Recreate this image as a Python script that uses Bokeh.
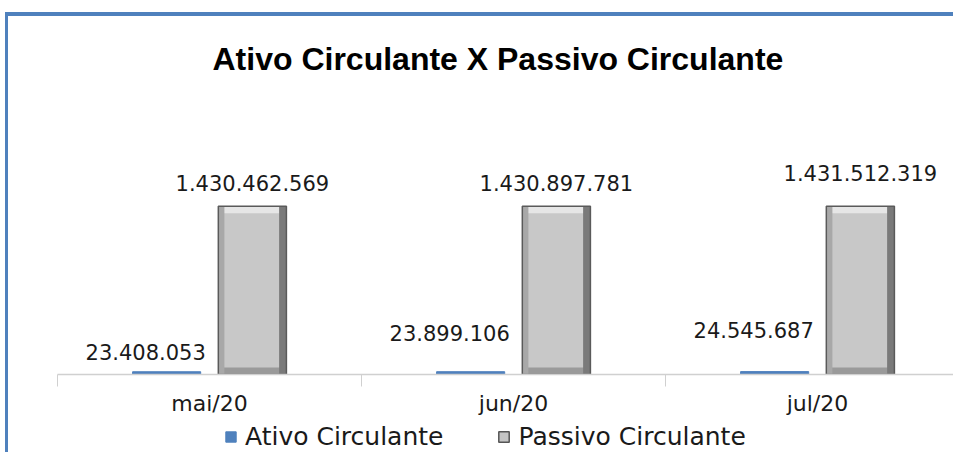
from bokeh.plotting import figure
from bokeh.layouts import column
from bokeh.models import ColumnDataSource, FixedTicker, Range1d, Legend, LegendItem
from bokeh.transform import dodge
from bokeh.embed import file_html
from bokeh.resources import INLINE
from bokeh.core.properties import value

# ---- data ----
categories = ["mai/20", "jun/20", "jul/20"]
ativo = [23408053, 23899106, 24545687]
passivo = [1430462569, 1430897781, 1431512319]
series_names = ["Ativo Circulante", "Passivo Circulante"]

# label offsets in screen pixels (layout only)
ativo_label_dy = [-12, -31, -34]
passivo_label_dy = [-15, -15, -25]


def fmt(v):
    return f"{v:,}".replace(",", ".")


W, H = 945, 402
FRAME_TOP, FRAME_BOTTOM, FRAME_LEFT = 69, 361, 49
frame_h = FRAME_BOTTOM - FRAME_TOP
y_end = max(passivo) * frame_h / 170
bevel = y_end * 7 / frame_h

centers = [i + 0.5 for i in range(len(categories))]
src = ColumnDataSource(dict(
    x=centers,
    ativo=ativo,
    passivo=passivo,
    passivo_top_band=[v - bevel for v in passivo],
    bevel_h=[bevel] * len(passivo),
    ativo_txt=[fmt(v) for v in ativo],
    passivo_txt=[fmt(v) for v in passivo],
    a_dy=ativo_label_dy,
    p_dy=passivo_label_dy,
))

p = figure(width=W, height=H, output_backend="svg", toolbar_location=None,
           x_range=Range1d(0, (W - FRAME_LEFT) / 304), y_range=Range1d(0, y_end),
           y_axis_location=None, min_border_left=FRAME_LEFT, min_border_right=0,
           min_border_top=FRAME_TOP, min_border_bottom=H - FRAME_BOTTOM)
p.outline_line_color = None
p.grid.visible = False
p.background_fill_color = "white"
p.border_fill_color = "white"

p.title.text = "Ativo Circulante X Passivo Circulante"
p.title.align = "left"
p.title.offset = 155
p.title.text_font = "Liberation Sans"
p.title.text_font_style = "bold"
p.title.text_font_size = "32px"
p.title.text_color = "black"
p.title.standoff = 18

OFF = 0.141
BW = 0.224

p.vbar(x=dodge("x", -OFF), top="ativo", width=BW, source=src,
       fill_color="#4f81bd", line_color="#4f81bd")

p.vbar(x=dodge("x", OFF), top="passivo", width=BW, source=src,
       fill_color="#c8c8c8", line_color=None)
# bevel strips
p.vbar(x=dodge("x", OFF), top="passivo", bottom="passivo_top_band", width=BW - 0.02,
       source=src, fill_color="#e6e6e6", line_color=None)
p.vbar(x=dodge("x", OFF), top="bevel_h", bottom=0, width=BW - 0.02,
       source=src, fill_color="#9a9a9a", line_color=None)
p.vbar(x=dodge("x", OFF + BW / 2 - 0.012), top="passivo", width=0.024,
       source=src, fill_color="#7a7a7a", line_color=None)
p.vbar(x=dodge("x", OFF - BW / 2 + 0.01), top="passivo", width=0.02,
       source=src, fill_color="#a8a8a8", line_color=None)
p.vbar(x=dodge("x", OFF), top="passivo", width=BW, source=src,
       fill_color=None, line_color="#5a5a5a", line_width=1.5)

# value labels
p.text(x=dodge("x", OFF), y="passivo", text="passivo_txt", source=src,
       text_align="center", text_baseline="bottom", y_offset="p_dy",
       text_font=value("DejaVu Sans"), text_font_size="21px",
       text_color="#1a1a1a")
p.text(x=dodge("x", -OFF), y="ativo", text="ativo_txt", source=src,
       text_align="center", text_baseline="bottom", y_offset="a_dy",
       x_offset=-21, text_font=value("DejaVu Sans"), text_font_size="21px",
       text_color="#1a1a1a")

# x axis: labels at category centres, ticks at category boundaries
ax = p.xaxis[0]
ax.ticker = FixedTicker(ticks=centers, minor_ticks=[0, 1, 2, 3])
ax.major_label_overrides = {c: lab for c, lab in zip(centers, categories)}
ax.major_tick_line_color = None
ax.major_tick_in = 0
ax.major_tick_out = 0
ax.minor_tick_in = 0
ax.minor_tick_out = 12
ax.minor_tick_line_color = "#d0d0d0"
ax.axis_line_color = "#d0d0d0"
ax.axis_line_width = 1.5
ax.major_label_standoff = 4
ax.major_label_text_font = "DejaVu Sans"
ax.major_label_text_font_size = "22px"
ax.major_label_text_color = "#1a1a1a"

# ---- legend strip (separate small figure; its renderers hold no drawable point) ----
lg = figure(width=W, height=34, output_backend="svg", toolbar_location=None,
            x_range=Range1d(0, 1), y_range=Range1d(0, 1),
            x_axis_location=None, y_axis_location=None,
            min_border_left=0, min_border_right=0, min_border_top=0, min_border_bottom=0)
lg.outline_line_color = None
lg.grid.visible = False
nan = float("nan")
empty = ColumnDataSource(dict(x=[nan], top=[nan]))
la = lg.vbar(x="x", top="top", width=0.1, source=empty,
             fill_color="#4f81bd", line_color="#4f81bd")
lp = lg.vbar(x="x", top="top", width=0.1, source=empty,
             fill_color="#c4c4c4", line_color="#555555", line_width=1.5)
legend = Legend(items=[LegendItem(label=series_names[0], renderers=[la]),
                       LegendItem(label=series_names[1], renderers=[lp])],
                orientation="horizontal", location=(167, 1),
                border_line_color=None, background_fill_alpha=0,
                label_text_font="DejaVu Sans", label_text_font_size="25px",
                label_text_color="#1a1a1a",
                glyph_width=13, glyph_height=13, label_standoff=8,
                spacing=54, padding=1, margin=0)
lg.add_layout(legend, "center")

layout = column(p, lg, spacing=0, margin=(12, 0, 0, 5))
layout.styles = {"border-top": "4px solid #4f81bd", "border-left": "3px solid #4f81bd"}
open("out.html", "w").write(file_html(layout, INLINE))
